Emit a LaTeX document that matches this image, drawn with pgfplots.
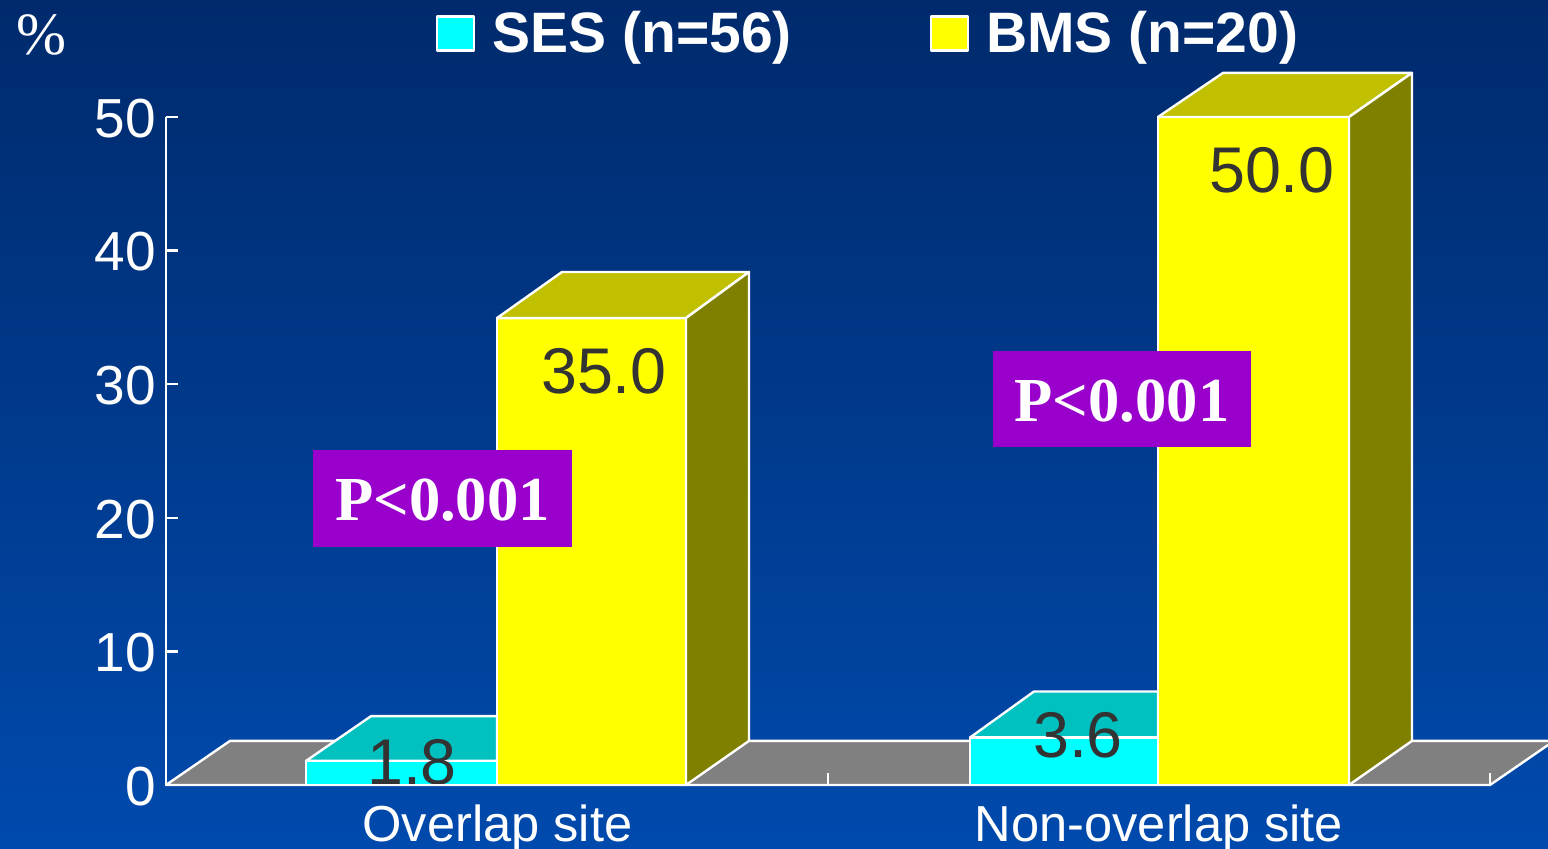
\documentclass[border=0pt]{standalone}
\usepackage{pgfplots}
\pgfplotsset{compat=1.18}
\usepackage{fontspec}
\setmainfont{Liberation Sans}
\newfontfamily\timesf{Liberation Serif}
\definecolor{bgtop}{RGB}{0,42,108}
\definecolor{bgbot}{RGB}{0,74,173}
\definecolor{sesfront}{RGB}{0,255,255}
\definecolor{sestop}{RGB}{0,192,192}
\definecolor{bmsfront}{RGB}{255,255,0}
\definecolor{bmstop}{RGB}{192,192,0}
\definecolor{bmsside}{RGB}{128,128,0}
\definecolor{floorc}{RGB}{128,128,128}
\definecolor{pbox}{RGB}{153,0,204}
\definecolor{valc}{RGB}{51,51,51}
\begin{document}
\begin{tikzpicture}
\useasboundingbox (-83pt,-32pt) rectangle (691pt,392.5pt);
\shade[top color=bgtop,bottom color=bgbot] (-83pt,-32pt) rectangle (691pt,392.5pt);
\begin{axis}[
  at={(0pt,0pt)},anchor=origin,
  scale only axis,width=662pt,height=334pt,
  xmin=166,xmax=1490,ymin=0,ymax=50,
  clip=false,axis on top,
  axis x line*=bottom,axis y line*=left,
  axis line style={white,line width=1.2pt,-},
  tick style={white,line width=1.2pt},
  major tick length=6pt,tick align=inside,
  xtick={166,828,1490},xticklabels={},
  extra x ticks={497.5,1159},
  extra x tick labels={Overlap site,Non-overlap site},
  extra x tick style={major tick length=0pt,
    tick label style={yshift=-2pt}},
  ytick={0,10,20,30,40,50},
  /pgf/number format/assume math mode=true,
  tick label style={white,font=\fontsize{27.5}{27.5}\selectfont},
  x tick label style={font=\fontsize{25.3}{25.3}\selectfont,text height=18pt,text depth=3pt,inner sep=0pt,yshift=-8.3pt},
  y tick label style={inner sep=0pt,xshift=-5pt,yshift=-0.7pt},
  legend style={at={(axis cs:436,56.25)},anchor=west,draw=none,fill=none,
    legend columns=2,inner sep=0pt,outer sep=0pt,
    font=\fontsize{28.5}{28.5}\selectfont\bfseries,text=white,
    /tikz/every even column/.style={column sep=67pt}},
  legend image code/.code={\draw[#1] (0pt,-8.5pt) rectangle (18.5pt,8.5pt); \path (25pt,0pt);},
  every axis plot/.append style={line join=round},
]
% floor
\addplot[forget plot,fill=floorc,draw=white,line width=1.2pt] coordinates {(166,0)(230,3.3)(1554,3.3)(1490,0)} -- cycle;
% overlap site
\addplot[forget plot,fill=sestop,draw=white,line width=1.2pt] coordinates {(306,1.8)(371,5.15)(497,5.15)(497,1.8)} -- cycle;
\addplot[fill=sesfront,draw=white,line width=1.2pt] coordinates {(306,0)(306,1.8)(497,1.8)(497,0)} -- cycle;
\addlegendentry{SES (n=56)}
\addplot[fill=bmsfront,draw=white,line width=1.2pt] coordinates {(497,0)(497,34.95)(686,34.95)(686,0)} -- cycle;
\addlegendentry{BMS (n=20)}
\addplot[forget plot,fill=bmstop,draw=white,line width=1.2pt] coordinates {(497,34.95)(562,38.4)(749,38.4)(686,34.95)} -- cycle;
\addplot[forget plot,fill=bmsside,draw=white,line width=1.2pt] coordinates {(686,34.95)(749,38.4)(749,3.3)(686,0)} -- cycle;
% non-overlap site
\addplot[forget plot,fill=sestop,draw=white,line width=1.2pt] coordinates {(970,3.55)(1034,7.0)(1158,7.0)(1158,3.55)} -- cycle;
\addplot[forget plot,fill=sesfront,draw=white,line width=1.2pt] coordinates {(970,0)(970,3.55)(1158,3.55)(1158,0)} -- cycle;
\addplot[forget plot,fill=bmsfront,draw=white,line width=1.2pt] coordinates {(1158,0)(1158,50)(1349,50)(1349,0)} -- cycle;
\addplot[forget plot,fill=bmstop,draw=white,line width=1.2pt] coordinates {(1158,50)(1223,53.3)(1412,53.3)(1349,50)} -- cycle;
\addplot[forget plot,fill=bmsside,draw=white,line width=1.2pt] coordinates {(1349,50)(1412,53.3)(1412,3.3)(1349,0)} -- cycle;
% value labels
\node[text=valc,inner sep=0pt,font=\fontsize{32.3}{32.3}\selectfont] at (axis cs:412,1.72) {1.8};
\node[text=valc,inner sep=0pt,font=\fontsize{32.3}{32.3}\selectfont] at (axis cs:604,30.95) {35.0};
\node[text=valc,inner sep=0pt,font=\fontsize{32.3}{32.3}\selectfont] at (axis cs:1078,3.74) {3.6};
\node[text=valc,inner sep=0pt,font=\fontsize{32.3}{32.3}\selectfont] at (axis cs:1272,46.03) {50.0};
% P boxes
\node[fill=pbox,text=white,inner sep=0pt,minimum width=129.5pt,minimum height=48.5pt,font=\timesf\bfseries\fontsize{31.3}{31.3}\selectfont] at (axis cs:442.5,21.44) {\raisebox{-1pt}[\height][\depth]{P<0.001}};
\node[fill=pbox,text=white,inner sep=0pt,minimum width=129pt,minimum height=48pt,font=\timesf\bfseries\fontsize{31.3}{31.3}\selectfont] at (axis cs:1122,28.89) {\raisebox{-1pt}[\height][\depth]{P<0.001}};
% unit
\node[text=white,inner sep=0pt,font=\timesf\fontsize{30}{30}\selectfont] at (axis cs:41,56.14) {\%};
\end{axis}
\end{tikzpicture}
\end{document}
